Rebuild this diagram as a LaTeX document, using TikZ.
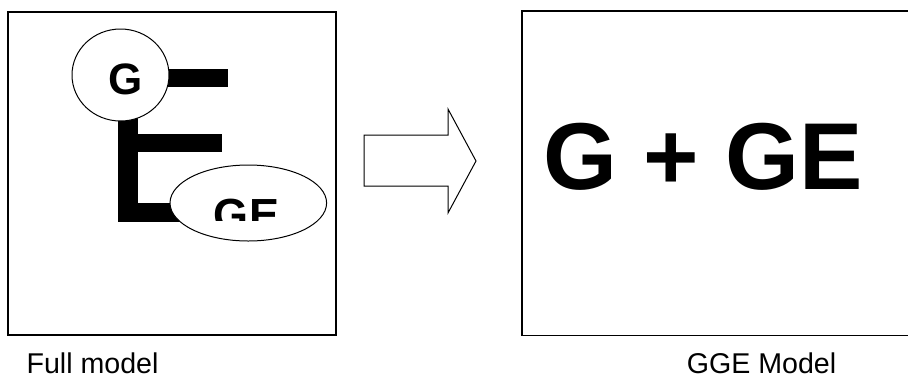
\documentclass[tikz,border=0pt]{standalone}
\usepackage{fontspec}
\setmainfont{Liberation Sans}
\usetikzlibrary{shapes.geometric}
\tikzset{
  panel/.style={draw=black, line width=1.5pt},
  bar/.style={fill=black, draw=none},
  bubble/.style={ellipse, draw=black, fill=white, line width=1pt, inner sep=0pt, outer sep=0pt},
  bigletter/.style={inner sep=0pt, font=\bfseries\fontsize{44}{44}\selectfont},
  caption/.style={inner sep=0pt, font=\fontsize{28.6}{30}\selectfont},
}
\begin{document}
\begin{tikzpicture}[x=1pt, y=-1pt]
  \useasboundingbox (0,0) rectangle (908,376);
  \clip (0,0) rectangle (908,376);

  % left panel: the full model
  \draw[panel] (8,12) rectangle (336,335);

  % the E-shaped bars joining the terms
  \fill[bar] (118.3,100) rectangle (138.3,221.7);
  \fill[bar] (150,69.3) rectangle (228.3,87.3);
  \fill[bar] (138.3,134.3) rectangle (221.7,152.3);
  \fill[bar] (118.3,203.3) rectangle (210,221.7);

  % G term
  \node[bubble, minimum width=97pt, minimum height=92pt] (gcirc) at (120.5,75) {};
  \node[bigletter, anchor=base] (glabel) at (126,94) {G};

  % GE term, its letters cut off along the bottom
  \node[bubble, minimum width=156.6pt, minimum height=76pt] (geell) at (248.3,203) {};
  \begin{scope}
    \clip (170,150) rectangle (330,220);
    \node[bigletter, anchor=base, font=\bfseries\fontsize{45}{45}\selectfont] (gelabel) at (246.5,230.5) {GE};
  \end{scope}

  % block arrow
  \draw[line width=1pt, line join=miter, fill=white]
    (364,135) -- (448,135) -- (448,109) -- (476,161) -- (448,213) -- (448,186) -- (364,186) -- cycle;

  % right panel: the GGE model
  \draw[panel] (522,11) rectangle (915,335.7);
  \node[inner sep=0pt, anchor=base, font=\bfseries\fontsize{95}{95}\selectfont] (gge) at (703,189.3) {G + GE};

  % captions
  \node[caption, anchor=base west] (fullcap) at (26.4,373) {Full model};
  \node[caption, anchor=base] (ggecap) at (761.5,373) {GGE Model};
\end{tikzpicture}
\end{document}
